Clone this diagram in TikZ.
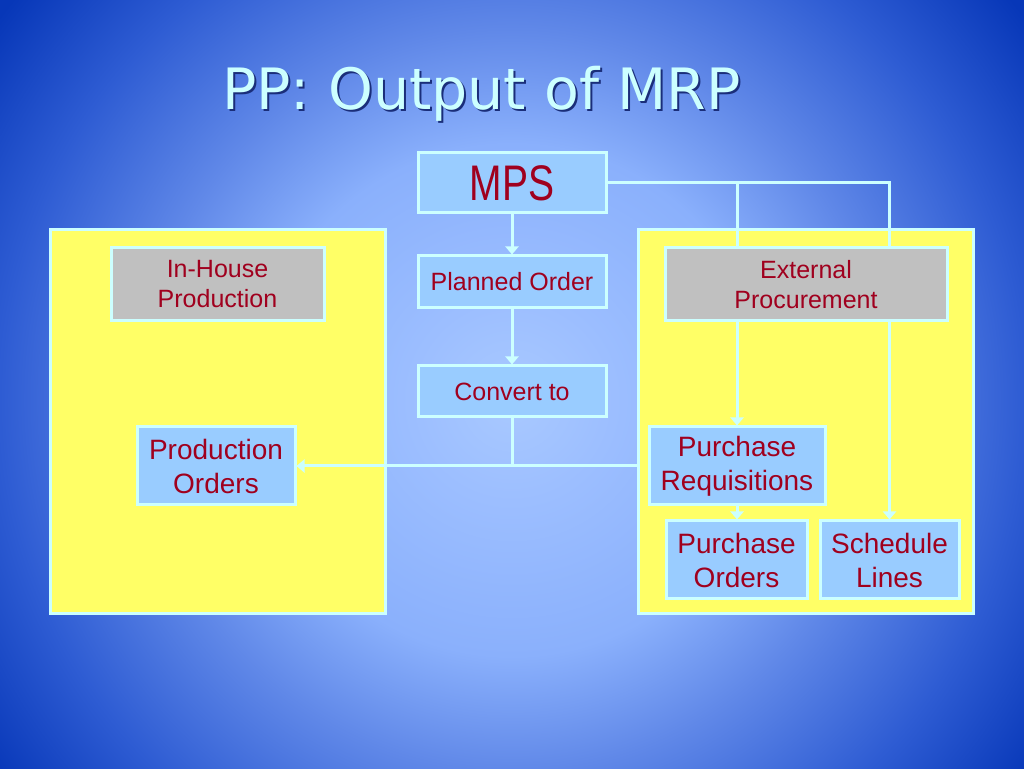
\documentclass[tikz,border=0pt]{standalone}
\usepackage{fontspec}
\setmainfont{Liberation Sans}
\newfontfamily\titlefont{DejaVu Sans}
\usepackage{graphicx}
\usetikzlibrary{arrows.meta,positioning}
\definecolor{titlecyan}{HTML}{CCFFFF}
\definecolor{titleshadow}{HTML}{1A2E7A}
\definecolor{edgecyan}{HTML}{CCFFFF}
\definecolor{boxblue}{HTML}{99CCFF}
\definecolor{panelyellow}{HTML}{FFFF66}
\definecolor{headgray}{HTML}{C0C0C0}
\definecolor{darkred}{HTML}{A0001E}
\definecolor{bgA}{HTML}{A9C9FF}
\definecolor{bgB}{HTML}{9CBEFF}
\definecolor{bgC}{HTML}{8AB0FC}
\definecolor{bgD}{HTML}{6088E8}
\definecolor{bgE}{HTML}{2E5CD3}
\definecolor{bgF}{HTML}{0737B8}
\pgfdeclareradialshading{slidebg}{\pgfpoint{0bp}{0bp}}{color(0bp)=(bgA); color(4bp)=(bgB); color(10bp)=(bgC); color(14.5bp)=(bgD); color(20bp)=(bgE); color(25bp)=(bgF); color(50bp)=(bgF)}
\pgfdeclarelayer{background}
\pgfdeclarelayer{wires}
\pgfsetlayers{background,wires,main}

\begin{document}
\begin{tikzpicture}[x=1pt,y=1pt,
  box/.style={draw=edgecyan,line width=3pt,fill=boxblue,text=darkred,inner sep=0pt,align=center},
  panel/.style={draw=edgecyan,line width=3pt,fill=panelyellow,inner sep=0pt},
  header/.style={box,fill=headgray,font=\fontsize{25}{30}\selectfont},
  small/.style={font=\fontsize{25}{30}\selectfont},
  big/.style={font=\fontsize{28}{34}\selectfont},
  flow/.style={edgecyan,line width=3pt},
  arr/.style={flow,-{Triangle[width=13pt,length=8pt]}}]
  \useasboundingbox (0,0) rectangle (1024,768);
  % slide background
  \begin{pgfonlayer}{background}
    \begin{scope}
      \clip (0,0) rectangle (1024,768);
      \shade[shading=slidebg] (-128,-272) rectangle (1152,1008);
    \end{scope}
  \end{pgfonlayer}
  % title
  \node[anchor=base west,inner sep=0pt,text=titleshadow,font=\titlefont\fontsize{57}{60}\selectfont] at (224,656) {PP: Output of MRP};
  \node[anchor=base west,inner sep=0pt,text=titlecyan,font=\titlefont\fontsize{57}{60}\selectfont] (title) at (222,658) {PP: Output of MRP};
  % yellow panels
  \begin{pgfonlayer}{background}
    \node[panel,minimum width=335pt,minimum height=384pt] (inpanel) at (217.5,346) {};
    \node[panel,minimum width=335pt,minimum height=384pt] (expanel) at (805.5,346) {};
  \end{pgfonlayer}
  % middle column
  \node[box,minimum width=188pt,minimum height=60pt,font=\fontsize{50}{50}\selectfont] (mps) at (512,585) {\scalebox{0.78}[1]{MPS}};
  \node[box,small,minimum width=188pt,minimum height=52pt] (planned) at (512,486) {Planned Order};
  \node[box,small,minimum width=188pt,minimum height=51pt] (convert) at (512,376.5) {Convert to};
  % panel headers
  \node[header,minimum width=213pt,minimum height=73pt] (inhouse) at (217.5,483.5) {In-House\\Production};
  \node[header,minimum width=282pt,minimum height=73pt] (external) at (806,483.5) {External\\Procurement};
  % order boxes
  \node[box,big,minimum width=158pt,minimum height=78pt] (prodorders) at (216,302) {Production\\Orders};
  \node[box,big,minimum width=176pt,minimum height=78pt] (reqs) at (737,302) {Purchase\\Requisitions};
  \node[box,big,minimum width=141pt,minimum height=78pt] (porders) at (736.5,208) {Purchase\\Orders};
  \node[box,big,minimum width=139pt,minimum height=78pt] (sched) at (889.5,208) {Schedule\\Lines};
  % connectors
  \begin{pgfonlayer}{wires}
    \draw[arr] (mps.south) -- (planned.north);
    \draw[arr] (planned.south) -- (convert.north);
    \draw[arr] (convert.south) |- (prodorders.east);
    \draw[flow] (convert.south) |- (expanel.west |- reqs.west);
    \draw[arr] (mps.east) -| (sched.north);
    \draw[arr] (mps.east -| reqs.north) -- (reqs.north);
    \draw[arr] (reqs.south) -- (reqs.south |- porders.north);
  \end{pgfonlayer}
\end{tikzpicture}
\end{document}
